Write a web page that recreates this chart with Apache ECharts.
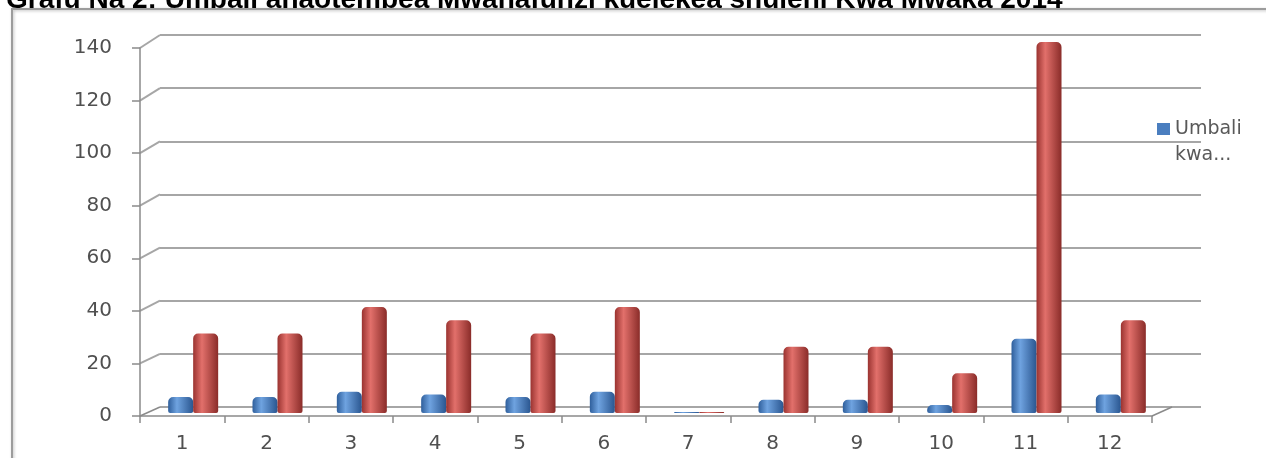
<!DOCTYPE html>
<html>
<head>
<meta charset="utf-8">
<script src="https://cdn.jsdelivr.net/npm/echarts@6/dist/echarts.min.js"></script>
<style>
html,body{margin:0;padding:0;background:#fff;}
#c{width:1266px;height:458px;}
</style>
</head>
<body>
<div id="c"></div>
<script>
var titleText = 'Grafu Na 2: Umbali anaotembea Mwanafunzi kuelekea shuleni Kwa Mwaka 2014';
var categories = ['1','2','3','4','5','6','7','8','9','10','11','12'];
var blueName = 'Umbali kwa...';
var redName = 'Umbali kwa mwaka';
var blueValues = [6, 6, 8, 7, 6, 8, 0.4, 5, 5, 3, 28, 7];
var redValues = [30, 30, 40, 35, 30, 40, 0.4, 25, 25, 15, 140, 35];
var yMin = 0, yMax = 140, yStep = 20;

var chart = echarts.init(document.getElementById('c'));
var font = 'DejaVu Sans';
var gridColor = '#a6a6a6';
var axisColor = '#8a8a8a';

function cyl(edge1, mid, edge2) {
  return {type:'linear', x:0, y:0, x2:1, y2:0, colorStops:[
    {offset:0, color:edge1},{offset:0.35, color:mid},{offset:1, color:edge2}]};
}

var option = {
  animation: false,
  backgroundColor: '#fff',
  title: {
    text: titleText, left: 1, top: -19,
    textStyle: {fontFamily:'Liberation Sans', fontWeight:'bold', fontSize:28, color:'#000'}
  },
  legend: {
    data: [blueName], left: 1152, top: 85, orient: 'vertical',
    itemWidth: 13, itemHeight: 12, icon: 'rect',
    itemStyle: {color:'#4a7ebf'},
    formatter: function(){ return '\u00a0\nUmbali\nkwa...'; },
    textStyle: {fontFamily: font, fontSize: 19, color:'#595959', lineHeight: 26}
  },
  grid: [
    {left:160, right:65, top:35, bottom:51},
    {left:140, right:114, top:48, bottom:42},
    {left:151, right:103, top:42, bottom:45}
  ],
  xAxis: [
    {gridIndex:0, type:'category', data:categories, show:false},
    {gridIndex:1, type:'category', data:categories,
      axisLine:{lineStyle:{color:axisColor, width:1.5}},
      axisTick:{show:true, length:7, lineStyle:{color:axisColor, width:1.5}},
      axisLabel:{fontFamily:font, fontSize:20, color:'#505050', margin:18}},
    {gridIndex:2, type:'category', data:categories, show:false}
  ],
  yAxis: [
    {gridIndex:0, type:'value', min:yMin, max:yMax, interval:yStep,
      axisLine:{show:false}, axisTick:{show:false}, axisLabel:{show:false},
      splitLine:{lineStyle:{color:gridColor, width:2}}},
    {gridIndex:1, type:'value', min:yMin, max:yMax, interval:yStep,
      axisLine:{show:true, lineStyle:{color:axisColor, width:1.5}},
      axisTick:{show:true, length:8, lineStyle:{color:axisColor, width:1.5}},
      splitLine:{show:false},
      axisLabel:{fontFamily:font, fontSize:20, color:'#505050', margin:28}},
    {gridIndex:2, type:'value', min:yMin, max:yMax, interval:yStep, show:false, splitLine:{show:false}}
  ],
  series: [
    {name: blueName, type:'bar', xAxisIndex:2, yAxisIndex:2, data: blueValues,
      barWidth:25, barGap:'0%',
      itemStyle:{color: cyl('#2f5f9c','#6fa3e0','#2a5690'), borderRadius:[5,5,2,2]}},
    {name: redName, type:'bar', xAxisIndex:2, yAxisIndex:2, data: redValues,
      barWidth:25, barGap:'0%',
      itemStyle:{color: cyl('#9a3330','#e2706b','#8a2c29'), borderRadius:[5,5,2,2]}}
  ]
};
chart.setOption(option);

// decorative 3D connectors computed from the axes
var els = [];
els.push({type:'rect', shape:{x:12, y:9, width:1400, height:600},
  style:{fill:'none', stroke:'#9c9c9c', lineWidth:2, shadowBlur:3, shadowColor:'rgba(0,0,0,0.25)', shadowOffsetX:1, shadowOffsetY:1}, z:-1});
var rFront = chart.getModel().getComponent('grid',1).coordinateSystem.getRect();
var rBack = chart.getModel().getComponent('grid',0).coordinateSystem.getRect();
for (var v = yMin; v <= yMax; v += yStep) {
  var f = chart.convertToPixel({xAxisIndex:1, yAxisIndex:1}, [0, v]);
  var b = chart.convertToPixel({xAxisIndex:0, yAxisIndex:0}, [0, v]);
  els.push({type:'line', shape:{x1:rFront.x, y1:f[1], x2:rBack.x, y2:b[1]},
    style:{stroke: v === yMin ? axisColor : gridColor, lineWidth: v === yMin ? 1.5 : 2}});
}
var b0 = chart.convertToPixel({xAxisIndex:0, yAxisIndex:0}, [0, yMin]);
els.push({type:'line', shape:{x1:rFront.x + rFront.width, y1:rFront.y + rFront.height, x2:rFront.x + rFront.width + 20, y2:b0[1]},
  style:{stroke:axisColor, lineWidth:1.5}});
chart.setOption({graphic: {elements: els}});
</script>
</body>
</html>
